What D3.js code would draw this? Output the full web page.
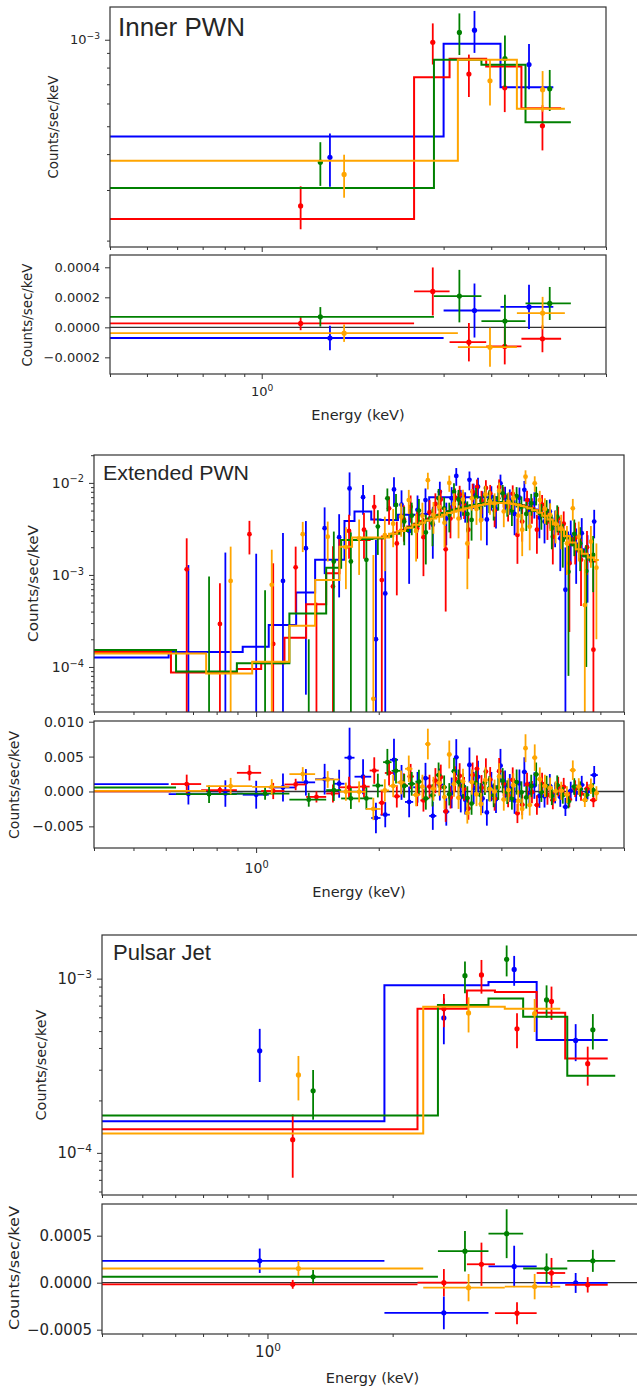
<!DOCTYPE html>
<html>
<head>
<meta charset="utf-8">
<script src="https://cdn.jsdelivr.net/npm/d3@7"></script>
<style>
  body { margin: 0; background: #fff; }
  svg text { font-family: "DejaVu Sans", sans-serif; fill: #262626; }
</style>
</head>
<body>
<div id="cntr"></div>
<script>
// ---- Inner PWN: bin edges (keV), model, measured rate and 1-sigma (counts/sec/keV)
const innerBlueEdges = [0.02, 3.00, 4.23, 5.82];
const innerBlueModel = [4.61e-4, 9.68e-4, 6.84e-4];
const innerBlueRate = [3.9e-4, 1.08e-3, 8.2e-4];
const innerBlueSigma = [8.2e-5, 1.8e-4, 1.47e-4];

const innerRedEdges = [0.02, 2.51, 3.11, 3.88, 4.80, 6.10];
const innerRedModel = [2.38e-4, 7.41e-4, 8.59e-4, 8.07e-4, 5.78e-4];
const innerRedRate = [2.64e-4, 9.8e-4, 7.6e-4, 6.8e-4, 5.02e-4];
const innerRedSigma = [4.5e-5, 1.6e-4, 1.28e-4, 1.2e-4, 9e-5];

const innerGreenEdges = [0.02, 2.83, 3.77, 4.92, 6.47];
const innerGreenModel = [3.05e-4, 8.52e-4, 8.18e-4, 5.16e-4];
const innerGreenRate = [3.75e-4, 1.06e-3, 8.6e-4, 6.75e-4];
const innerGreenSigma = [6.5e-5, 1.75e-4, 1.75e-4, 1.1e-4];

const innerOrangeEdges = [0.02, 3.27, 4.67, 6.24];
const innerOrangeModel = [3.79e-4, 8.52e-4, 5.75e-4];
const innerOrangeRate = [3.4e-4, 7.2e-4, 6.7e-4];
const innerOrangeSigma = [5.8e-5, 1.3e-4, 1.08e-4];

// ---- Extended PWN
const extBlueEdges = [0.01, 0.61, 0.754, 0.927, 1.074, 1.254, 1.396, 1.55, 1.648, 1.744, 1.917,
  2.02, 2.13, 2.23, 2.32, 2.43, 2.55, 2.66, 2.77, 2.88, 2.98, 3.06, 3.14, 3.22, 3.30, 3.38,
  3.46, 3.55, 3.64, 3.73, 3.83, 3.93, 4.03, 4.14, 4.25, 4.37, 4.49, 4.62, 4.75, 4.89, 5.03,
  5.18, 5.34, 5.50, 5.66, 5.83, 6.01, 6.20, 6.40, 6.62, 6.90];
const extBlueModel = [1.27e-4, 1.45e-4, 1.45e-4, 1.66e-4, 2.86e-4, 6.43e-4, 1.46e-3, 1.46e-3, 3.86e-3, 4.88e-3,
  4.0e-3, 3.96e-3, 3.96e-3, 4.5e-3, 4.5e-3, 4.5e-3, 4.6e-3, 7.0e-3, 7.0e-3, 7.0e-3,
  7.0e-3, 7.0e-3, 7.0e-3, 7.0e-3, 7.0e-3, 7.0e-3, 7.0e-3, 7.0e-3, 7.0e-3, 6.4e-3,
  6.3e-3, 6.2e-3, 6.1e-3, 6.0e-3, 5.9e-3, 5.75e-3, 5.6e-3, 5.4e-3, 5.15e-3, 4.85e-3,
  4.5e-3, 4.1e-3, 3.7e-3, 3.3e-3, 2.9e-3, 2.5e-3, 2.2e-3, 1.9e-3, 1.65e-3, 1.45e-3];
const extBlueRate = [1.18e-3, -2.2e-4, -1.5e-4, -3e-4, 8.6e-4, 1.95e-3, 3.22e-3, 2.57e-3, 8.7e-3, 7.0e-3,
  2e-4, 6.3e-4, 8.5e-3, 5.8e-3, 3.0e-3, 5.1e-3, 6.5e-3, 3.5e-3, 8.0e-3, 4.1e-3,
  6.8e-3, 1.19e-2, 6.2e-3, 5.8e-3, 1.08e-2, 7.5e-3, 9.1e-3, 6.0e-3, 4.0e-3, 7.1e-3,
  5.2e-3, 9.9e-3, 7.0e-3, 6.5e-3, 4.6e-3, 6.9e-3, 8.4e-3, 5.0e-3, 6.0e-3, 4.2e-3,
  3.8e-3, 4.9e-3, 3.5e-3, 2.5e-3, 6.9e-4, 2.6e-3, 2.0e-3, 2.84e-3, 1.6e-3, 3.8e-3];
const extBlueSigma = [1.5e-3, 1.5e-3, 1.9e-3, 2.0e-3, 2.0e-3, 1.9e-3, 2.2e-3, 2.0e-3, 4.3e-3, 2.5e-3,
  2.2e-3, 1.8e-3, 3.0e-3, 2.5e-3, 2.2e-3, 2.2e-3, 2.2e-3, 2.0e-3, 2.3e-3, 2.0e-3,
  2.2e-3, 2.6e-3, 2.2e-3, 2.1e-3, 2.5e-3, 2.3e-3, 2.3e-3, 2.1e-3, 1.9e-3, 2.1e-3,
  2.0e-3, 2.4e-3, 2.1e-3, 2.0e-3, 1.9e-3, 2.0e-3, 2.1e-3, 1.8e-3, 1.9e-3, 1.7e-3,
  1.6e-3, 1.7e-3, 1.5e-3, 1.4e-3, 1.3e-3, 1.3e-3, 1.2e-3, 1.3e-3, 1.1e-3, 1.3e-3];

const extRedEdges = [0.01, 0.618, 0.733, 0.897, 1.029, 1.174, 1.327, 1.486, 1.602,
  1.78, 1.90, 2.00, 2.07, 2.17, 2.26, 2.35, 2.44, 2.53, 2.62, 2.71, 2.80, 2.88, 2.96, 3.04,
  3.12, 3.20, 3.28, 3.36, 3.44, 3.53, 3.62, 3.71, 3.80, 3.90, 4.00, 4.10, 4.21, 4.32, 4.44,
  4.56, 4.69, 4.82, 4.96, 5.11, 5.27, 5.43, 5.60, 5.78, 5.97, 6.17, 6.38, 6.60, 6.86];
const extRedModel = [1.45e-4, 8.7e-5, 8.7e-5, 9.5e-5, 1.1e-4, 2.08e-4, 4.8e-4, 1.04e-3,
  2.4e-3, 2.4e-3, 2.5e-3, 2.5e-3, 2.65e-3, 2.9e-3, 3.1e-3, 3.35e-3, 3.6e-3, 3.85e-3,
  4.1e-3, 4.35e-3, 4.55e-3, 4.75e-3, 4.95e-3, 5.1e-3, 5.25e-3, 5.4e-3, 5.55e-3, 5.65e-3,
  5.75e-3, 5.85e-3, 5.95e-3, 6.0e-3, 6.05e-3, 6.1e-3, 6.1e-3, 6.05e-3, 5.95e-3, 5.85e-3,
  5.7e-3, 5.5e-3, 5.3e-3, 5.05e-3, 4.7e-3, 4.3e-3, 3.85e-3, 3.4e-3, 2.95e-3, 2.5e-3,
  2.1e-3, 1.8e-3, 1.6e-3, 1.4e-3];
const extRedRate = [1.5e-4, 1.15e-3, 2.93e-4, 2.77e-3, 1.78e-4, 1.21e-3, -3e-4, 7.5e-4,
  3.0e-3, 3.1e-3, 5.5e-3, 8.8e-4, 5.3e-3, 2.2e-3, 4.0e-3, 5.5e-3, 3.2e-3, 2.57e-3,
  4.8e-3, 5.9e-3, 6.6e-3, 1.9e-3, 4.1e-3, 6.9e-3, 7.5e-3, 5.76e-3, 3.1e-3, 8.0e-3,
  9.0e-3, 6.4e-3, 8.8e-3, 7.7e-3, 5.0e-3, 9.0e-3, 7.2e-3, 5.5e-3, 7.6e-3, 2.72e-3,
  3.8e-3, 6.5e-3, 5.2e-3, 3.1e-3, 5.8e-3, 3.8e-3, 2.6e-3, 4.1e-3, 3.6e-3, 1.34e-3,
  2.5e-3, 1.46e-3, 2.0e-3, 1.54e-4];
const extRedSigma = [1.4e-3, 1.35e-3, 5.2e-4, 1.1e-3, 1.16e-3, 8.2e-4, 8e-4, 1.3e-3,
  1.5e-3, 1.6e-3, 1.9e-3, 1.8e-3, 1.8e-3, 1.6e-3, 1.7e-3, 1.8e-3, 1.7e-3, 1.6e-3,
  1.7e-3, 1.8e-3, 1.8e-3, 1.5e-3, 1.6e-3, 1.8e-3, 1.8e-3, 1.7e-3, 1.6e-3, 1.8e-3,
  1.9e-3, 1.8e-3, 1.9e-3, 1.8e-3, 1.7e-3, 1.9e-3, 1.8e-3, 1.7e-3, 1.8e-3, 1.4e-3,
  1.5e-3, 1.7e-3, 1.6e-3, 1.4e-3, 1.6e-3, 1.4e-3, 1.3e-3, 1.4e-3, 1.3e-3, 1.1e-3,
  1.2e-3, 1.0e-3, 1.0e-3, 1.0e-3];

const extGreenEdges = [0.01, 0.636, 0.897, 1.207, 1.486, 1.617,
  1.80, 1.93, 2.05, 2.15, 2.26, 2.36, 2.46, 2.56, 2.66, 2.76, 2.85, 2.94, 3.02, 3.10, 3.18,
  3.26, 3.34, 3.42, 3.51, 3.60, 3.69, 3.78, 3.88, 3.98, 4.08, 4.19, 4.30, 4.42, 4.54, 4.67,
  4.80, 4.94, 5.09, 5.24, 5.40, 5.57, 5.75, 5.94, 6.14, 6.35, 6.58, 6.86];
const extGreenModel = [1.53e-4, 8.9e-5, 1.1e-4, 3.8e-4, 1.2e-3,
  2.4e-3, 2.45e-3, 2.5e-3, 2.6e-3, 2.8e-3, 3.0e-3, 3.3e-3, 3.6e-3, 3.9e-3, 4.2e-3,
  4.45e-3, 4.7e-3, 4.9e-3, 5.1e-3, 5.25e-3, 5.4e-3, 5.55e-3, 5.7e-3, 5.8e-3, 5.9e-3,
  6.0e-3, 6.1e-3, 6.15e-3, 6.2e-3, 6.15e-3, 6.1e-3, 6.0e-3, 5.85e-3, 5.65e-3, 5.45e-3,
  5.2e-3, 4.95e-3, 4.6e-3, 4.25e-3, 3.85e-3, 3.4e-3, 2.95e-3, 2.5e-3, 2.1e-3, 1.85e-3,
  1.6e-3, 1.45e-3];
const extGreenRate = [7.2e-4, -3e-4, -2e-4, -8e-4, 1.4e-3,
  1.4e-3, 1.46e-3, 3.35e-3, 6.8e-3, 5.76e-3, 3.8e-3, 4.4e-3, 5.0e-3, 2.9e-3, 3.65e-3,
  6.8e-3, 5.3e-3, 4.5e-3, 8.0e-3, 6.6e-3, 6.2e-3, 4.6e-3, 3.96e-3, 7.0e-3, 5.4e-3,
  7.3e-3, 6.5e-3, 5.6e-3, 6.8e-3, 7.7e-3, 6.0e-3, 5.0e-3, 7.2e-3, 5.5e-3, 4.6e-3,
  6.0e-3, 7.4e-3, 4.5e-3, 5.0e-3, 3.2e-3, 4.3e-3, 2.4e-3, 1.08e-3, 2.8e-3, 2.2e-3,
  1.1e-3, 1.65e-3];
const extGreenSigma = [1.2e-3, 1.26e-3, 8.8e-4, 1.0e-3, 1.56e-3,
  1.5e-3, 1.6e-3, 1.7e-3, 1.9e-3, 1.8e-3, 1.7e-3, 1.7e-3, 1.7e-3, 1.6e-3, 1.6e-3,
  1.8e-3, 1.7e-3, 1.6e-3, 1.9e-3, 1.8e-3, 1.8e-3, 1.7e-3, 1.6e-3, 1.8e-3, 1.7e-3,
  1.8e-3, 1.8e-3, 1.7e-3, 1.8e-3, 1.8e-3, 1.7e-3, 1.6e-3, 1.8e-3, 1.6e-3, 1.6e-3,
  1.6e-3, 1.7e-3, 1.4e-3, 1.5e-3, 1.3e-3, 1.4e-3, 1.2e-3, 1.0e-3, 1.2e-3, 1.1e-3,
  1.0e-3, 1.0e-3];

const extOrangeEdges = [0.01, 0.754, 0.978, 1.207, 1.396, 1.602,
  1.72, 1.86, 2.02, 2.12, 2.22, 2.32, 2.42, 2.52, 2.60, 2.68, 2.77, 2.86, 2.94, 3.02, 3.10,
  3.18, 3.26, 3.34, 3.43, 3.52, 3.61, 3.70, 3.80, 3.90, 4.00, 4.11, 4.22, 4.34, 4.46, 4.54,
  4.63, 4.76, 4.90, 5.04, 5.19, 5.35, 5.52, 5.70, 5.89, 6.09, 6.30, 6.52, 6.75, 6.94];
const extOrangeModel = [1.40e-4, 8.5e-5, 1.14e-4, 2.81e-4, 8.83e-4,
  2.03e-3, 2.55e-3, 2.55e-3, 2.55e-3, 2.8e-3, 3.0e-3, 3.25e-3, 3.5e-3, 3.7e-3, 3.9e-3,
  4.1e-3, 4.3e-3, 4.5e-3, 4.7e-3, 4.85e-3, 5.0e-3, 5.15e-3, 5.3e-3, 5.45e-3, 5.6e-3,
  5.75e-3, 5.85e-3, 5.95e-3, 6.0e-3, 6.05e-3, 6.05e-3, 6.0e-3, 5.9e-3, 5.75e-3, 5.6e-3,
  5.5e-3, 5.3e-3, 5.05e-3, 4.75e-3, 4.4e-3, 4.0e-3, 3.55e-3, 3.1e-3, 2.65e-3, 2.25e-3,
  1.9e-3, 1.7e-3, 1.55e-3, 1.45e-3];
const extOrangeRate = [2.4e-4, 8.6e-4, 7.8e-4, 2.77e-3, 2.6e-3,
  2.0e-3, 2.5e-3, 4.5e-5, 2.7e-3, 3.6e-3, 4.3e-3, 6.5e-3, 3.0e-3, 4.4e-3, 1.07e-2,
  4.5e-3, 5.5e-3, 3.7e-3, 1.0e-2, 5.9e-3, 4.1e-3, 6.6e-3, 2.2e-3, 6.8e-3, 5.2e-3,
  3.96e-3, 7.5e-3, 6.3e-3, 6.0e-3, 8.2e-3, 4.9e-3, 6.2e-3, 6.8e-3, 4.4e-3, 3.1e-3,
  1.17e-2, 3.35e-3, 9.9e-3, 6.5e-3, 5.2e-3, 4.5e-3, 3.6e-3, 3.2e-3, 2.2e-3, 5.3e-3,
  2.6e-3, 4.7e-4, 2.3e-3, 1.2e-3];
const extOrangeSigma = [1.2e-3, 1.17e-3, 1.1e-3, 1.0e-3, 1.2e-3,
  1.3e-3, 1.5e-3, 1.6e-3, 1.6e-3, 1.6e-3, 1.7e-3, 1.9e-3, 1.6e-3, 1.7e-3, 2.2e-3,
  1.7e-3, 1.8e-3, 1.7e-3, 2.0e-3, 1.8e-3, 1.6e-3, 1.8e-3, 1.5e-3, 1.8e-3, 1.7e-3,
  1.6e-3, 1.8e-3, 1.8e-3, 1.7e-3, 1.9e-3, 1.6e-3, 1.7e-3, 1.7e-3, 1.6e-3, 1.5e-3,
  2.0e-3, 1.5e-3, 1.9e-3, 1.7e-3, 1.6e-3, 1.5e-3, 1.4e-3, 1.3e-3, 1.2e-3, 1.4e-3,
  1.2e-3, 1.0e-3, 1.1e-3, 1.0e-3];

// ---- Pulsar Jet
const jetBlueEdges = [0.005, 1.911, 3.40, 4.44, 6.58];
const jetBlueModel = [1.52e-4, 9.16e-4, 9.57e-4, 4.45e-4];
const jetBlueRate = [3.85e-4, 5.95e-4, 1.13e-3, 4.42e-4];
const jetBlueSigma = [1.3e-4, 1.75e-4, 2.2e-4, 1.06e-4];

const jetRedEdges = [0.005, 2.295, 3.017, 3.524, 4.44, 5.20, 6.58];
const jetRedModel = [1.365e-4, 6.71e-4, 8.54e-4, 8.39e-4, 6.37e-4, 3.48e-4];
const jetRedRate = [1.19e-4, 6.71e-4, 1.05e-3, 5.15e-4, 7.4e-4, 3.25e-4];
const jetRedSigma = [4.7e-5, 1.45e-4, 2.3e-4, 1.17e-4, 1.6e-4, 8.2e-5];

const jetGreenEdges = [0.005, 2.57, 3.40, 4.12, 5.26, 6.86];
const jetGreenModel = [1.64e-4, 7.05e-4, 7.69e-4, 6.04e-4, 2.77e-4];
const jetGreenRate = [2.27e-4, 1.04e-3, 1.29e-3, 7.55e-4, 5.09e-4];
const jetGreenSigma = [7.2e-5, 2.15e-4, 2.6e-4, 1.6e-4, 1.17e-4];

const jetOrangeEdges = [0.005, 2.369, 3.721, 5.06];
const jetOrangeModel = [1.29e-4, 6.89e-4, 6.71e-4];
const jetOrangeRate = [2.8e-4, 6.36e-4, 6.29e-4];
const jetOrangeSigma = [8e-5, 1.45e-4, 1.35e-4];

const titles = ["Inner PWN", "Extended PWN", "Pulsar Jet"];
const energyDomain = [0.4, 8];
const xMajor = [1];
const xMinor = [0.4, 0.5, 0.6, 0.7, 0.8, 0.9, 2, 3, 4, 5, 6, 7, 8];

const colors = { blue: "#0000ff", red: "#ff0000", green: "#008000", orange: "#ffa500" };

function spec(color, edges, model, rate, sigma) {
  return { color: colors[color], edges, model, rate, sigma };
}

const innerSpectra = [
  spec("blue", innerBlueEdges, innerBlueModel, innerBlueRate, innerBlueSigma),
  spec("red", innerRedEdges, innerRedModel, innerRedRate, innerRedSigma),
  spec("green", innerGreenEdges, innerGreenModel, innerGreenRate, innerGreenSigma),
  spec("orange", innerOrangeEdges, innerOrangeModel, innerOrangeRate, innerOrangeSigma)
];
const extSpectra = [
  spec("blue", extBlueEdges, extBlueModel, extBlueRate, extBlueSigma),
  spec("red", extRedEdges, extRedModel, extRedRate, extRedSigma),
  spec("green", extGreenEdges, extGreenModel, extGreenRate, extGreenSigma),
  spec("orange", extOrangeEdges, extOrangeModel, extOrangeRate, extOrangeSigma)
];
const jetSpectra = [
  spec("blue", jetBlueEdges, jetBlueModel, jetBlueRate, jetBlueSigma),
  spec("red", jetRedEdges, jetRedModel, jetRedRate, jetRedSigma),
  spec("green", jetGreenEdges, jetGreenModel, jetGreenRate, jetGreenSigma),
  spec("orange", jetOrangeEdges, jetOrangeModel, jetOrangeRate, jetOrangeSigma)
];

// layout of the three stacked figures (pixels)
const panels = [
  { title: titles[0], spectra: innerSpectra, x0: 110, x1: 606,
    mainTop: 7, mainBot: 247, mainDomain: [1.9e-4, 1.3e-3],
    resTop: 255, resBot: 374, resDomain: [-3.11e-4, 4.82e-4], resTicks: [-2e-4, 0, 2e-4, 4e-4], resFmt: ".4f",
    titleX: 118, titleY: 36, titleSize: 26, titleLen: 127,
    tickSize: 13, xPad: 8, xLabelY: 420,
    yLabMainX: 53, yLabResX: 27, yLabResY: 315, yLabLen: [103, 103], dot: 2.6 },
  { title: titles[1], spectra: extSpectra, x0: 94, x1: 624,
    mainTop: 455, mainBot: 712, mainDomain: [3.24e-5, 2.01e-2],
    resTop: 721, resBot: 848, resDomain: [-0.0081, 0.0101], resTicks: [-0.005, 0, 0.005, 0.010], resFmt: ".3f",
    titleX: 103, titleY: 480, titleSize: 20, titleLen: 146,
    tickSize: 14, xPad: 10, xLabelY: 897,
    yLabMainX: 33, yLabResX: 14, yLabResY: 785, yLabLen: [117, 108], dot: 2.4 },
  { title: titles[2], spectra: jetSpectra, x0: 102, x1: 643,
    mainTop: 935, mainBot: 1195, mainDomain: [5.73e-5, 1.78e-3],
    resTop: 1204, resBot: 1334, resDomain: [-5.46e-4, 8.37e-4], resTicks: [-5e-4, 0, 5e-4], resFmt: ".4f",
    titleX: 113, titleY: 960, titleSize: 21.5, titleLen: 98,
    tickSize: 15, xPad: 7, xLabelY: 1383,
    yLabMainX: 41, yLabResX: 14, yLabResY: 1268, yLabLen: [111, 124], dot: 2.6 }
];

const W = 637, H = 1389;
const svg = d3.select("#cntr").append("svg").attr("width", W).attr("height", H);
const frameColor = "#333";

function logMinor(domain) {
  const out = [];
  const lo = Math.floor(Math.log10(domain[0])), hi = Math.ceil(Math.log10(domain[1]));
  for (let e = lo; e <= hi; e++) {
    for (let k = 2; k <= 9; k++) {
      const v = k * Math.pow(10, e);
      if (v >= domain[0] && v <= domain[1]) out.push(v);
    }
  }
  return out;
}
function logMajor(domain) {
  const out = [];
  for (let e = Math.ceil(Math.log10(domain[0])); e <= Math.floor(Math.log10(domain[1])); e++) out.push(Math.pow(10, e));
  return out;
}
function powLabel(sel) {
  sel.each(function(d) {
    const e = Math.round(Math.log10(d));
    const t = d3.select(this).text("10");
    t.append("tspan").attr("dy", "-0.55em").attr("font-size", "0.7em")
      .text(e < 0 ? "\u2212" + (-e) : String(e));
  });
}
function styleAxis(g) {
  g.select(".domain").remove();
  g.selectAll(".tick line").attr("stroke", frameColor).attr("stroke-width", 1);
}
const pos = v => (v > 0 ? v : 1e-12);

panels.forEach((p, pi) => {
  const x = d3.scaleLog().domain(energyDomain).range([p.x0, p.x1]);
  const yMain = d3.scaleLog().domain(p.mainDomain).range([p.mainBot, p.mainTop]).clamp(true);
  const yRes = d3.scaleLinear().domain(p.resDomain).range([p.resBot, p.resTop]);

  const defs = svg.append("defs");
  defs.append("clipPath").attr("id", "cm" + pi).append("rect")
    .attr("x", p.x0).attr("y", p.mainTop).attr("width", p.x1 - p.x0).attr("height", p.mainBot - p.mainTop);
  defs.append("clipPath").attr("id", "cr" + pi).append("rect")
    .attr("x", p.x0).attr("y", p.resTop).attr("width", p.x1 - p.x0).attr("height", p.resBot - p.resTop);

  const gMain = svg.append("g").attr("clip-path", `url(#cm${pi})`);
  const gRes = svg.append("g").attr("clip-path", `url(#cr${pi})`);

  gRes.append("line")
    .attr("x1", p.x0).attr("x2", p.x1).attr("y1", yRes(0)).attr("y2", yRes(0))
    .attr("stroke", frameColor).attr("stroke-width", 1.3);

  p.spectra.forEach(s => {
    const bins = s.rate.map((v, i) => ({
      lo: s.edges[i], hi: s.edges[i + 1], e: (s.edges[i] + s.edges[i + 1]) / 2,
      v, sig: s.sigma[i], m: s.model[i], r: v - s.model[i]
    }));

    // spectrum panel: data with error bars, then folded model
    const gm = gMain.append("g");
    gm.selectAll("line").data(bins).join("line")
      .attr("x1", d => x(d.e)).attr("x2", d => x(d.e))
      .attr("y1", d => yMain(pos(d.v - d.sig))).attr("y2", d => yMain(pos(d.v + d.sig)))
      .attr("stroke", s.color).attr("stroke-width", 1.8);
    gm.selectAll("circle").data(bins.filter(d => d.v > 0)).join("circle")
      .attr("cx", d => x(d.e)).attr("cy", d => yMain(d.v)).attr("r", p.dot)
      .attr("fill", s.color);
    const stepPts = [];
    bins.forEach(d => { stepPts.push([d.lo, d.m], [d.hi, d.m]); });
    gm.append("path")
      .attr("d", d3.line().x(d => x(d[0])).y(d => yMain(d[1]))(stepPts))
      .attr("fill", "none").attr("stroke", s.color).attr("stroke-width", 2);

    // residuals: data minus model, crosses
    const gr = gRes.append("g");
    gr.selectAll("line.h").data(bins).join("line").attr("class", "h")
      .attr("x1", d => x(d.lo)).attr("x2", d => x(d.hi))
      .attr("y1", d => yRes(d.r)).attr("y2", d => yRes(d.r))
      .attr("stroke", s.color).attr("stroke-width", 1.8);
    gr.selectAll("line.v").data(bins).join("line").attr("class", "v")
      .attr("x1", d => x(d.e)).attr("x2", d => x(d.e))
      .attr("y1", d => yRes(d.r - d.sig)).attr("y2", d => yRes(d.r + d.sig))
      .attr("stroke", s.color).attr("stroke-width", 1.8);
    gr.selectAll("circle").data(bins).join("circle")
      .attr("cx", d => x(d.e)).attr("cy", d => yRes(d.r)).attr("r", p.dot)
      .attr("fill", s.color);
  });

  // frames
  [[p.mainTop, p.mainBot], [p.resTop, p.resBot]].forEach(([t, b]) => {
    svg.append("rect").attr("x", p.x0).attr("y", t).attr("width", p.x1 - p.x0).attr("height", b - t)
      .attr("fill", "none").attr("stroke", frameColor).attr("stroke-width", 1.2);
  });

  // x ticks (both axes), label on the residual only
  [p.mainBot, p.resBot].forEach((yb, k) => {
    svg.append("g").attr("transform", `translate(0,${yb})`)
      .call(d3.axisBottom(x).tickValues(xMinor).tickSize(3).tickFormat(""))
      .call(styleAxis);
    const gx = svg.append("g").attr("transform", `translate(0,${yb})`)
      .call(d3.axisBottom(x).tickValues(xMajor).tickSize(5).tickPadding(p.xPad))
      .call(styleAxis);
    gx.selectAll("text").attr("font-size", p.tickSize).attr("font-family", "DejaVu Sans");
    if (k === 0) gx.selectAll("text").remove();
    else gx.selectAll(".tick text").call(powLabel);
  });

  // y ticks of the spectrum (log)
  svg.append("g").attr("transform", `translate(${p.x0},0)`)
    .call(d3.axisLeft(yMain).tickValues(logMinor(p.mainDomain)).tickSize(3).tickFormat(""))
    .call(styleAxis);
  const gy = svg.append("g").attr("transform", `translate(${p.x0},0)`)
    .call(d3.axisLeft(yMain).tickValues(logMajor(p.mainDomain)).tickSize(5).tickPadding(5))
    .call(styleAxis);
  gy.selectAll(".tick text").attr("font-size", p.tickSize).attr("font-family", "DejaVu Sans").call(powLabel);

  // y ticks of residuals
  const gyr = svg.append("g").attr("transform", `translate(${p.x0},0)`)
    .call(d3.axisLeft(yRes).tickValues(p.resTicks).tickSize(5).tickPadding(5).tickFormat(d3.format(p.resFmt)))
    .call(styleAxis);
  gyr.selectAll(".tick text").attr("font-size", p.tickSize).attr("font-family", "DejaVu Sans");

  // labels
  const lblSize = 13.5;
  svg.append("text").attr("x", (p.x0 + p.x1) / 2).attr("y", p.xLabelY)
    .attr("text-anchor", "middle").attr("font-size", 14.5).text("Energy (keV)");
  [[p.yLabMainX, (p.mainTop + p.mainBot) / 2, p.yLabLen[0]], [p.yLabResX, p.yLabResY, p.yLabLen[1]]]
    .forEach(([cx, cy, len]) => {
      svg.append("text")
        .attr("transform", `translate(${cx + 0.36 * lblSize},${cy}) rotate(-90)`)
        .attr("text-anchor", "middle").attr("font-size", lblSize)
        .attr("textLength", len).attr("lengthAdjust", "spacingAndGlyphs")
        .text("Counts/sec/keV");
    });

  svg.append("text").attr("x", p.titleX).attr("y", p.titleY)
    .attr("font-size", p.titleSize)
    .attr("textLength", p.titleLen).attr("lengthAdjust", "spacingAndGlyphs")
    .style("font-family", "'Liberation Sans', Arial, sans-serif")
    .text(p.title);
});
</script>
</body>
</html>
